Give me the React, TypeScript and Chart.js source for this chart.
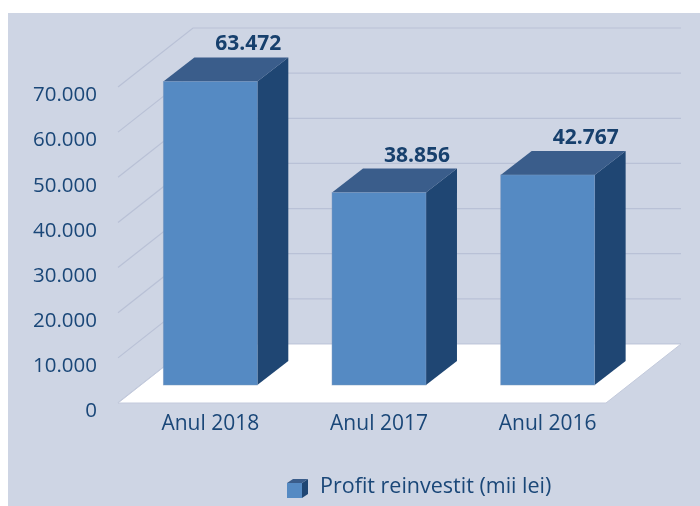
import React, { useEffect, useRef } from "react";
import { Chart, registerables } from "chart.js";

Chart.register(...registerables);

const categories = ["Anul 2018", "Anul 2017", "Anul 2016"];
const profitValues = [63472, 38856, 42767];
const seriesLabel = "Profit reinvestit (mii lei)";
const yTickValues = [0, 10000, 20000, 30000, 40000, 50000, 60000, 70000];

const FONT = "'Open Sans', Lato, sans-serif";
const TEXT = "#1A4778";
const LABEL = "#17406D";
const PANEL = "#CED5E4";
const GRID = "#B9C1D6";
const FRONT = "#558AC3";
const TOP = "#3A5D8B";
const SIDE = "#1F4673";

const fmt = (v: number) => String(Math.round(v)).replace(/\B(?=(\d{3})+(?!\d))/g, ".");

const scene3d = {
  id: "scene3d",
  beforeDraw(chart: any) {
    const { ctx, chartArea, scales } = chart;
    const y = scales.y;
    ctx.save();
    ctx.fillStyle = "#ffffff";
    ctx.fillRect(0, 0, chart.width, chart.height);
    ctx.fillStyle = PANEL;
    ctx.fillRect(8, 13, chart.width - 8, chart.height - 13);

    const FL = chartArea.left - 8;
    const FR = chartArea.right - 26;
    const DX = 75;
    const DY = -59;
    ctx.strokeStyle = GRID;
    ctx.lineWidth = 1.2;
    yTickValues.forEach((v) => {
      const py = y.getPixelForValue(v);
      ctx.beginPath();
      ctx.moveTo(FL, py);
      ctx.lineTo(FL + DX, py + DY);
      ctx.lineTo(FR + DX, py + DY);
      ctx.stroke();
    });
    const p0 = y.getPixelForValue(0);
    ctx.beginPath();
    ctx.moveTo(FL, p0);
    ctx.lineTo(FR, p0);
    ctx.lineTo(FR + DX, p0 + DY);
    ctx.lineTo(FL + DX, p0 + DY);
    ctx.closePath();
    ctx.fillStyle = "#ffffff";
    ctx.fill();
    ctx.strokeStyle = "#C3CADC";
    ctx.lineWidth = 1;
    ctx.stroke();
    ctx.restore();
  },
  afterDatasetsDraw(chart: any) {
    const { ctx } = chart;
    const meta = chart.getDatasetMeta(0);
    const BDX = 31;
    const BDY = -24;
    ctx.save();
    meta.data.forEach((el: any, i: number) => {
      const left = el.x - el.width / 2;
      const right = el.x + el.width / 2;
      const top = el.y - 35;
      const bottom = el.base - 18;
      ctx.fillStyle = SIDE;
      ctx.beginPath();
      ctx.moveTo(right, top);
      ctx.lineTo(right + BDX, top + BDY);
      ctx.lineTo(right + BDX, bottom + BDY);
      ctx.lineTo(right, bottom);
      ctx.closePath();
      ctx.fill();
      ctx.fillStyle = TOP;
      ctx.beginPath();
      ctx.moveTo(left, top);
      ctx.lineTo(right, top);
      ctx.lineTo(right + BDX, top + BDY);
      ctx.lineTo(left + BDX, top + BDY);
      ctx.closePath();
      ctx.fill();
      ctx.fillStyle = FRONT;
      ctx.fillRect(left, top, right - left, bottom - top);
      ctx.strokeStyle = "rgba(120,150,190,0.6)";
      ctx.lineWidth = 0.8;
      ctx.strokeRect(left, top, right - left, bottom - top);

      ctx.fillStyle = LABEL;
      ctx.font = `bold 21px ${FONT}`;
      ctx.textAlign = "center";
      ctx.textBaseline = "middle";
      ctx.fillText(fmt(profitValues[i]), el.x + 38, el.y - 72);
    });

    const ds = chart.data.datasets[0];
    const lx = 287;
    const ly = 483;
    ctx.fillStyle = SIDE;
    ctx.beginPath();
    ctx.moveTo(lx + 15, ly);
    ctx.lineTo(lx + 21, ly - 4);
    ctx.lineTo(lx + 21, ly + 11);
    ctx.lineTo(lx + 15, ly + 15);
    ctx.closePath();
    ctx.fill();
    ctx.fillStyle = TOP;
    ctx.beginPath();
    ctx.moveTo(lx, ly);
    ctx.lineTo(lx + 15, ly);
    ctx.lineTo(lx + 21, ly - 4);
    ctx.lineTo(lx + 6, ly - 4);
    ctx.closePath();
    ctx.fill();
    ctx.fillStyle = FRONT;
    ctx.fillRect(lx, ly, 15, 15);
    ctx.fillStyle = TEXT;
    ctx.font = `21.5px ${FONT}`;
    ctx.textAlign = "left";
    ctx.textBaseline = "middle";
    ctx.fillText(ds.label, 320, 487);
    ctx.restore();
  },
};

export default function App() {
  const ref = useRef<HTMLCanvasElement | null>(null);
  useEffect(() => {
    document.body.style.margin = "0";
    if (!ref.current) return;
    const chart = new Chart(ref.current, {
      type: "bar",
      data: {
        labels: categories,
        datasets: [
          {
            label: seriesLabel,
            data: profitValues,
            backgroundColor: "rgba(0,0,0,0)",
            borderWidth: 0,
            barPercentage: 0.557,
            categoryPercentage: 1,
          },
        ],
      },
      options: {
        responsive: false,
        animation: false,
        layout: { padding: { left: 30, right: 68, top: 87, bottom: 43 } },
        plugins: { legend: { display: false }, tooltip: { enabled: false } },
        scales: {
          x: {
            grid: { display: false, drawTicks: false },
            border: { display: false },
            ticks: { padding: 8, color: TEXT, font: { family: FONT, size: 21 } },
            afterFit: (s: any) => {
              s.height = 60;
            },
          },
          y: {
            min: 0,
            max: 70000,
            grid: { display: false, drawTicks: false },
            border: { display: false },
            ticks: {
              stepSize: 10000,
              padding: 29,
              labelOffset: 8.5,
              color: TEXT,
              font: { family: FONT, size: 20.5 },
              callback: (v: any) => fmt(Number(v)),
            },
            afterFit: (s: any) => {
              s.width = 96;
            },
          },
        },
      },
      plugins: [scene3d],
    });
    return () => chart.destroy();
  }, []);
  return (
    <div style={{ width: 700, height: 506 }}>
      <canvas ref={ref} width={700} height={506} style={{ display: "block" }} />
    </div>
  );
}
